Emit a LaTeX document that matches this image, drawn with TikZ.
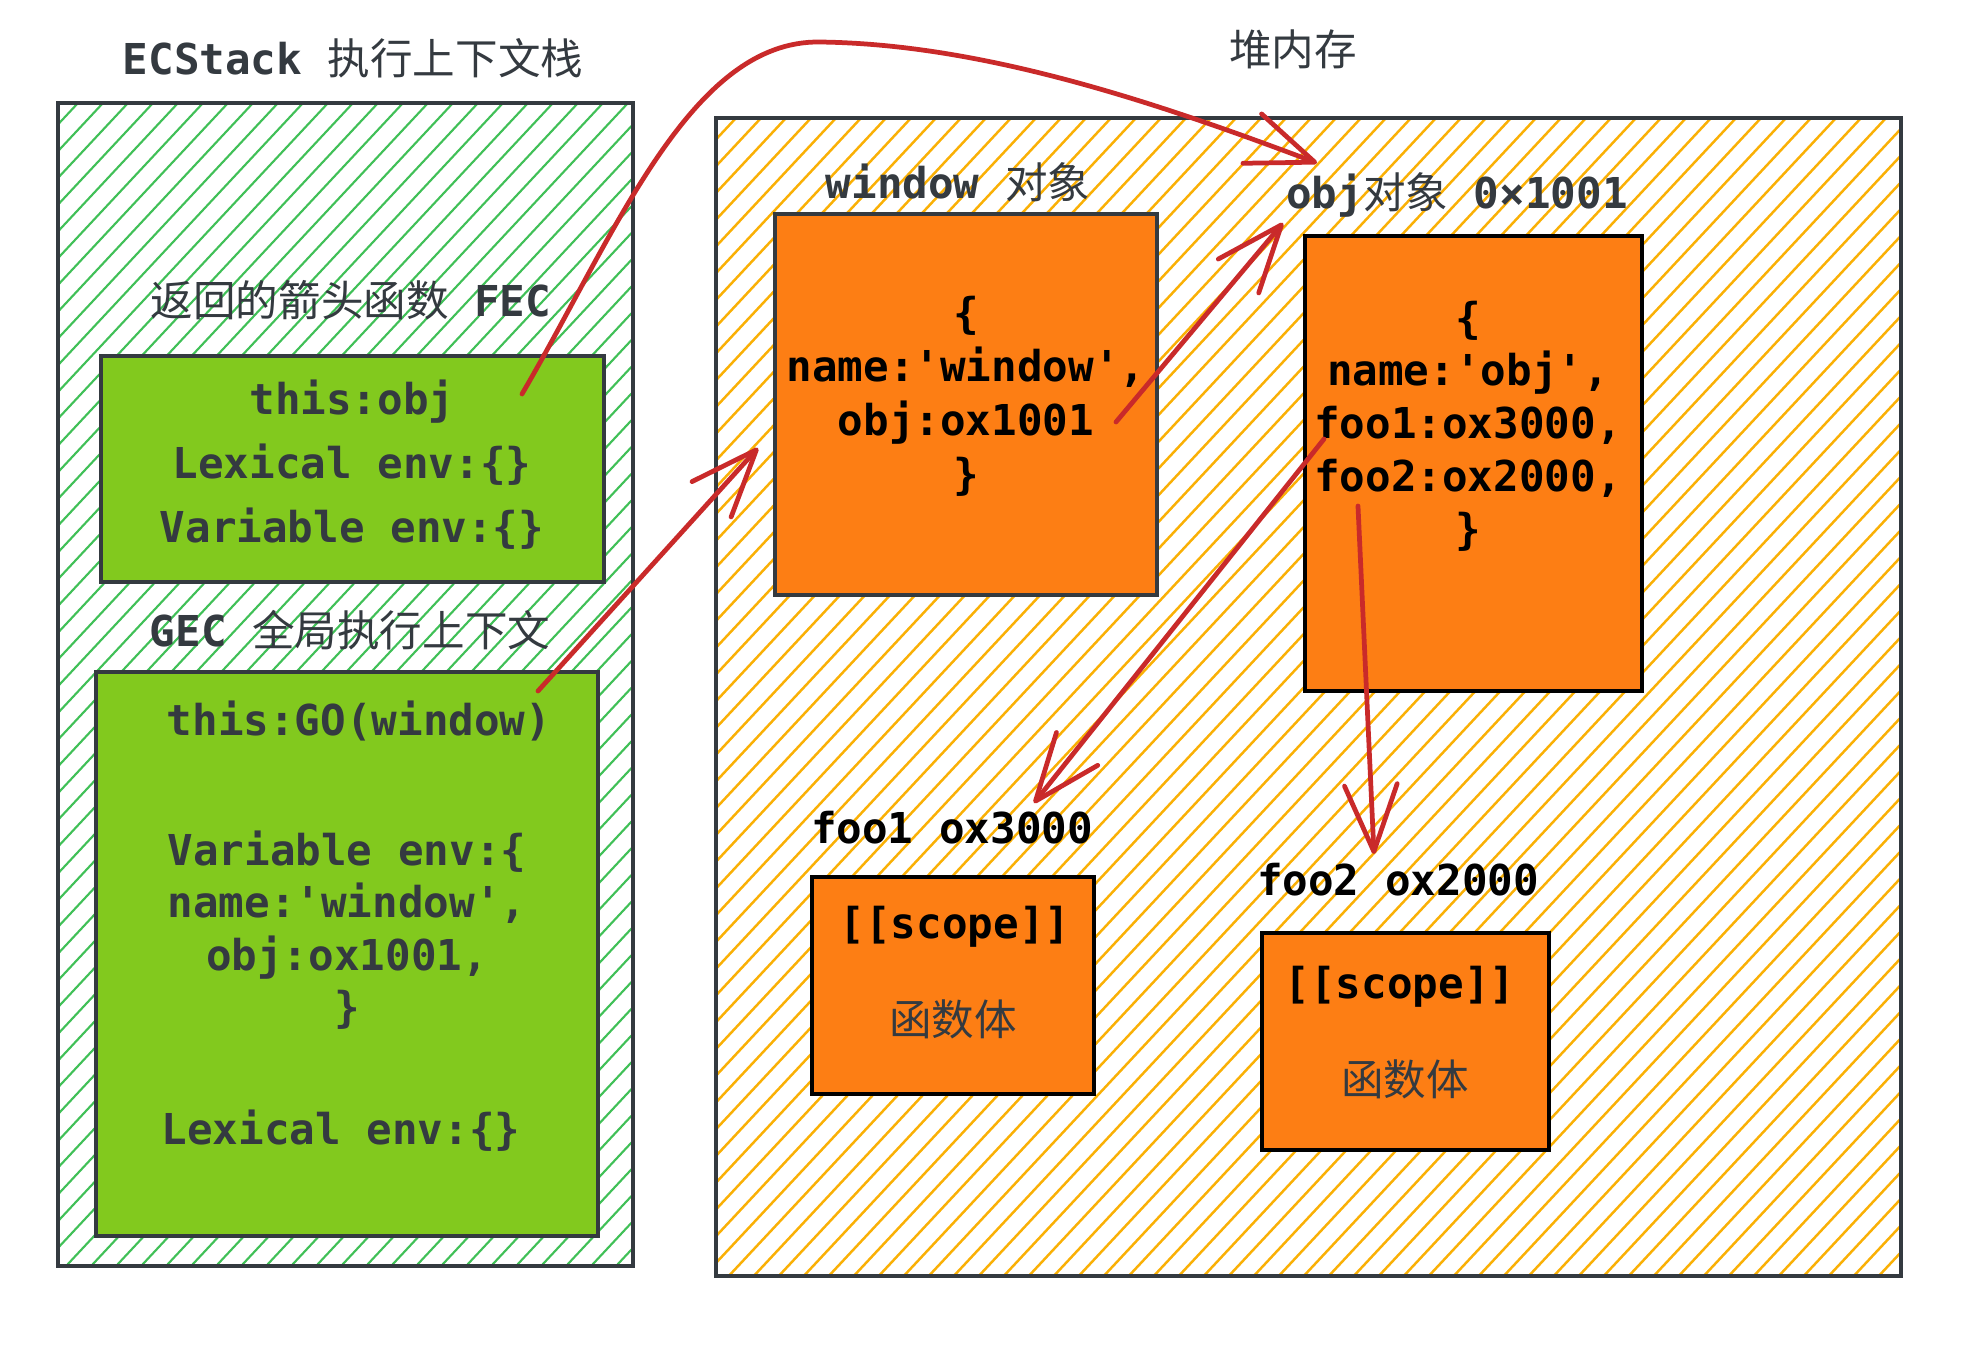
\documentclass[tikz,border=0pt]{standalone}
\usepackage{fontspec}
\setmonofont{DejaVu Sans Mono}
\newfontfamily\cjk{Noto Sans CJK SC}
\newcommand{\zh}[1]{{\cjk\mdseries #1}}
\usetikzlibrary{arrows.meta}
\definecolor{ink}{HTML}{343A40}
\definecolor{gfill}{HTML}{82C91E}
\definecolor{ofill}{HTML}{FD7E14}
\definecolor{ghatch}{HTML}{40C057}
\definecolor{yhatch}{HTML}{FAB005}
\definecolor{arrowred}{HTML}{C92A2A}
\newcommand{\myhatch}[5]{%
  \begin{scope}
    \clip (#1,#2) rectangle (#3,#4);
    \pgfmathsetmacro{\hh}{(#4)-(#2)}
    \pgfmathsetmacro{\hstart}{(#1)-\hh/1.07-30}
    \pgfmathsetmacro{\hsecond}{\hstart+25}
    \foreach \s in {\hstart,\hsecond,...,#3} {
      \draw[#5] (\s,#4) -- ++(\hh/1.07,-\hh);
    }
  \end{scope}}
\tikzset{
  frame/.style={line width=1.3pt, draw=ink},
  darkframe/.style={line width=1.3pt, draw=black},
  hatchg/.style={draw=ghatch, line width=0.6pt},
  hatchy/.style={draw=yhatch, line width=0.7pt},
  txt/.style={font=\fontsize{12.1pt}{15pt}\selectfont\ttfamily\bfseries, text=ink, align=center, inner sep=0pt},
  btxt/.style={txt, text=black},
  link/.style={draw=arrowred, line width=1.35pt, line cap=round,
    -{Straight Barb[length=19pt,width=15pt,round]}},
}
\begin{document}
\begin{tikzpicture}[x=0.01cm,y=-0.01cm]
\useasboundingbox[fill=white] (0,0) rectangle (1974,1344);

% ---------- left stack ----------
\myhatch{58}{103}{633}{1266}{hatchg}
\draw[frame] (58,103) rectangle (633,1266);
\node[txt] (stacktitle) at (353,58) {ECStack \zh{执行上下文栈}};

\node[txt] (fectitle) at (351,300) {\zh{返回的箭头函数} FEC};
\draw[frame, fill=gfill] (101,356) rectangle (604,582);
\node[txt, font=\fontsize{12.1pt}{18.2pt}\selectfont\ttfamily\bfseries] (fectext) at (352,465)
  {this:obj\\Lexical env:\{\}\\Variable env:\{\}};

\node[txt] (gectitle) at (350,630) {GEC \zh{全局执行上下文}};
\draw[frame, fill=gfill] (96,672) rectangle (598,1236);
\node[txt] (gecthis) at (359,721) {this:GO(window)};
\node[txt, font=\fontsize{12.1pt}{14.9pt}\selectfont\ttfamily\bfseries] (gecvar) at (347,930)
  {Variable env:\{\\name:'window',\\obj:ox1001,\\\}};
\node[txt] (geclex) at (341,1131) {Lexical env:\{\}};

% ---------- heap ----------
\node[txt] (heaptitle) at (1293,49) {\zh{堆内存}};
\myhatch{716}{118}{1901}{1276}{hatchy}
\draw[frame] (716,118) rectangle (1901,1276);

\node[txt] (wintitle) at (958,182) {window \zh{对象}};
\draw[frame, fill=ofill] (775,214) rectangle (1157,595);
\node[btxt, font=\fontsize{12.1pt}{15.3pt}\selectfont\ttfamily\bfseries] (wintext) at (966,396)
  {\{\\name:'window',\\obj:ox1001\\\}};

\node[txt] (objtitle) at (1457,195) {obj\zh{对象} 0×1001};
\draw[darkframe, fill=ofill] (1305,236) rectangle (1642,691);
\node[btxt, font=\fontsize{12.1pt}{15pt}\selectfont\ttfamily\bfseries] (objtext) at (1468,426)
  {\{\\name:'obj',\\foo1:ox3000,\\foo2:ox2000,\\\}};

\node[btxt] (foo1title) at (952,828) {foo1 ox3000};
\draw[darkframe, fill=ofill] (812,877) rectangle (1094,1094);
\node[btxt] (foo1scope) at (955,927) {[[scope]]};
\node[txt] (foo1body) at (953,1019) {\zh{函数体}};

\node[btxt] (foo2title) at (1398,880) {foo2 ox2000};
\draw[darkframe, fill=ofill] (1262,933) rectangle (1549,1150);
\node[btxt] (foo2scope) at (1400,987) {[[scope]]};
\node[txt] (foo2body) at (1405,1079) {\zh{函数体}};

% ---------- connectors ----------
\coordinate (a1s) at (522,394);
\coordinate (a1m) at (820,42);
\coordinate (a1e) at (1317,163);
\coordinate (a2s) at (538,691);
\coordinate (a2e) at (758,448);
\coordinate (a3s) at (1116,422);
\coordinate (a3e) at (1283,223);
\coordinate (a4s) at (1324,439);
\coordinate (a4e) at (1034,803);
\coordinate (a5s) at (1358,506);
\coordinate (a5e) at (1374,854);

\draw[link] (a1s) .. controls (615,235) and (690,40) .. (a1m)
  .. controls (980,44) and (1150,100) .. (a1e);
\draw[link] (a2s) -- (a2e);
\draw[link] (a3s) -- (a3e);
\draw[link] (a4s) -- (a4e);
\draw[link] (a5s) -- (a5e);
\end{tikzpicture}
\end{document}
